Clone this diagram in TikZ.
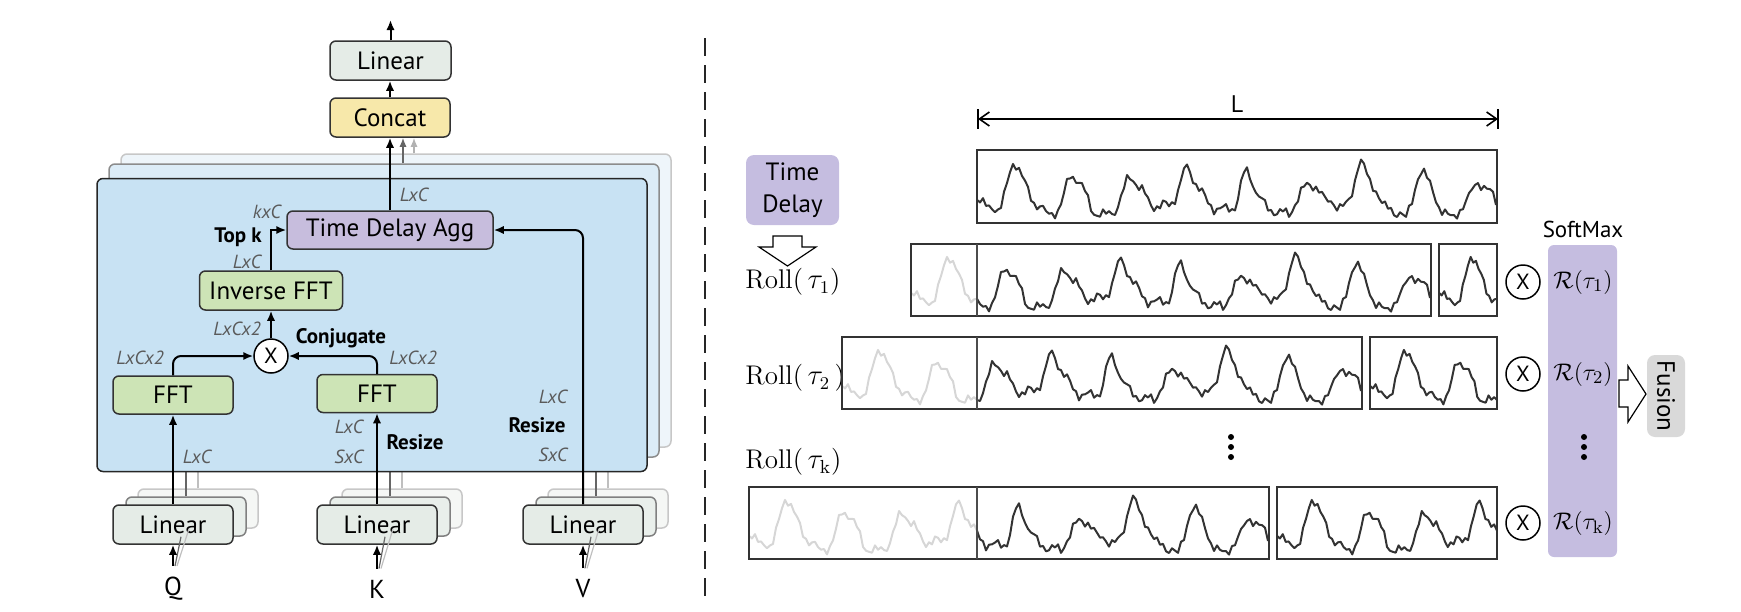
\documentclass[tikz,border=0pt]{standalone}
\usepackage{fontspec}
\setsansfont{PT Sans}
\usetikzlibrary{arrows.meta,calc}
\definecolor{panelblue}{HTML}{C8E2F3}
\definecolor{panelbluemid}{HTML}{DCECF7}
\definecolor{panelblueback}{HTML}{EEF5FA}
\definecolor{lingray}{HTML}{E5ECE7}
\definecolor{concaty}{HTML}{F7E8AA}
\definecolor{tdapurple}{HTML}{C7BDDD}
\definecolor{fftgreen}{HTML}{CDE4B6}
\definecolor{tdlav}{HTML}{C5BDE0}
\definecolor{fusiongray}{HTML}{D9D9D9}
\definecolor{dimgray}{HTML}{5A5A5A}
\definecolor{wavedarkc}{HTML}{333333}
\definecolor{wavelightc}{HTML}{D6D6D6}
\newcommand\mywaverow[2]{%
  \pgfmathsetmacro\wB{#1+72}%
  \pgfmathsetmacro\wL{977-#2}%
  \pgfmathsetmacro\wR{1497-#2}%
  \pgfmathsetmacro\wS{1497-#2+8}%
  \pgfmathsetmacro\wSc{(#2-8)/#2}%
  \pgfmathtruncatemacro\nA{#2/3+1}%
  \pgfmathtruncatemacro\nB{(519-#2)/3+1}%
  \begin{scope}
    \clip (\wL,#1) rectangle (977,\wB);
    \draw[wavelight] plot[domain=0:#2, samples=\nA, variable=\u] ({\wL+\u},{\wB-3-67*wav(\u)});
  \end{scope}
  \begin{scope}
    \clip (977,#1) rectangle (\wR,\wB);
    \draw[wavedark] plot[domain=#2:519, samples=\nB, variable=\u] ({977+\u-#2},{\wB-3-67*wav(\u)});
  \end{scope}
  \begin{scope}
    \clip (\wS,#1) rectangle (1497,\wB);
    \draw[wavedark] plot[domain=0:#2, samples=\nA, variable=\u] ({\wS+\u*\wSc},{\wB-3-67*wav(\u)});
  \end{scope}
  \draw[wbox] (\wL,#1) rectangle (\wR,\wB);
  \draw[wdiv] (977,#1) -- (977,\wB);
  \draw[wbox] (\wS,#1) rectangle (1497,\wB);
}
\begin{document}
\begin{tikzpicture}[x=0.5pt,y=-0.5pt,
  declare function={
    dd(\u)=mod(\u+51,58)-29;
    pk(\u)=exp(-(dd(\u)^2)/(60+110*(dd(\u)>0)));
    amp(\u)=0.72+0.18*sin(4.1*\u)+0.1*sin(9.7*\u+30);
    wav(\u)=0.16+0.74*amp(\u)*pk(\u)+0.12*exp(-((dd(\u)-15)^2)/30)
      +0.05*sin(mod(\u,47)*137)+0.04*sin(mod(\u,71)*191+17)+0.03*sin(mod(\u,83)*113+71)
      +0.07*sin(2.1*\u+40)-0.1*exp(-((dd(\u)+14)^2)/12)*(sin(2.7*\u)>0.3);},
  blk/.style={draw=black!80, line width=0.75pt, rounded corners=3pt, inner sep=0pt,
    font=\sffamily\fontsize{12.5}{14}\selectfont, minimum height=19.5pt},
  linbox/.style={blk, fill=lingray, minimum width=60pt},
  shadowA/.style={draw=black!50, fill=lingray!85!white, line width=0.75pt, rounded corners=3pt,
    inner sep=0pt, minimum width=60pt, minimum height=19.5pt},
  shadowB/.style={draw=black!22, fill=lingray!40!white, line width=0.75pt, rounded corners=3pt,
    inner sep=0pt, minimum width=60pt, minimum height=19.5pt},
  panel/.style={rounded corners=3pt, line width=0.75pt, inner sep=0pt,
    minimum width=275pt, minimum height=146.5pt},
  dimlab/.style={font=\sffamily\itshape\fontsize{9.5}{11}\selectfont, text=dimgray, inner sep=0pt},
  boldlab/.style={font=\sffamily\bfseries\fontsize{10.5}{12}\selectfont, inner sep=0pt},
  arr/.style={line width=1pt, -{Latex[length=5pt,width=4.2pt]}},
  garrA/.style={line width=0.8pt, black!60, -{Latex[length=4.5pt,width=3.6pt]}},
  garrB/.style={line width=0.8pt, black!30, -{Latex[length=4.5pt,width=3.6pt]}},
  glineA/.style={line width=0.8pt, black!60},
  glineB/.style={line width=0.8pt, black!25},
  wavedark/.style={line width=1pt, wavedarkc, line join=round},
  wavelight/.style={line width=1pt, wavelightc, line join=round},
  wbox/.style={line width=0.8pt, black!80},
  wdiv/.style={line width=0.6pt, black!70},
  mulc/.style={circle, draw=black, line width=0.75pt, fill=white, minimum size=17pt, inner sep=0pt,
    font=\sffamily\fontsize{11}{12}\selectfont},
  qkv/.style={font=\sffamily\fontsize{13}{14}\selectfont, inner sep=0pt},
  roll/.style={font=\rmfamily\fontsize{13.5}{15}\selectfont, inner sep=0pt, anchor=west},
  rlab/.style={font=\fontsize{13}{15}\selectfont, inner sep=0pt},
  hollow/.style={draw=black, line width=0.6pt, fill=white, line join=miter}
]
\useasboundingbox (0,0) rectangle (1741,611);

% ---------------- left: stacked panels ----------------
\node[panel, draw=black!22, fill=panelblueback] (pBack) at (396,300.5) {};
\node[panel, draw=black!45, fill=panelbluemid] (pMid) at (384,310.5) {};

% linear boxes (shadows) for Q, K, V
\foreach \nm/\cx in {Q/173, K/377, V/583}{
  \node[shadowB] (sb\nm) at (\cx+25,508.5) {};
  \node[shadowA] (sa\nm) at (\cx+13,516.5) {};
  \draw[glineB] (sb\nm.north) -- (sb\nm.north |- pBack.south);
  \draw[glineA] (sa\nm.north) -- (sa\nm.north |- pMid.south);
}

\node[panel, draw=black!85, fill=panelblue] (pMain) at (372,325) {};

\node[linbox] (linQ) at (173,524.5) {Linear};
\node[linbox] (linK) at (377,524.5) {Linear};
\node[linbox] (linV) at (583,524.5) {Linear};

\node[qkv] (Q) at (173,589) {Q};
\node[qkv] (K) at (377,589) {K};
\node[qkv] (V) at (583,589) {V};
\foreach \nm in {Q,K,V}{
  \coordinate (in\nm) at ($(\nm.north)+(0,-11)$);
  \draw[glineB, line width=0.6pt] ($(in\nm)+(4,0)$) -- ($(sb\nm.south)+(-9,0)$);
  \draw[glineA, line width=0.6pt] ($(in\nm)+(2,0)$) -- ($(sa\nm.south)+(-5,0)$);
  \draw[arr] (in\nm) -- (in\nm |- lin\nm.south);
}

% inner blocks
\node[blk, fill=fftgreen, minimum width=60pt, minimum height=19pt] (fftQ) at (173,395) {FFT};
\node[blk, fill=fftgreen, minimum width=60pt, minimum height=19pt] (fftK) at (377,393.5) {FFT};
\node[mulc] (mulx) at (271,356) {X};
\node[blk, fill=fftgreen, minimum width=71.5pt] (ifft) at (271,290.5) {Inverse FFT};
\node[blk, fill=tdapurple, minimum width=103pt, minimum height=19pt] (tda) at (390,230) {Time Delay Agg};
\node[blk, fill=concaty, minimum width=60pt] (concat) at (390,117.5) {Concat};
\node[blk, fill=lingray, minimum width=60.5pt] (linTop) at (390.5,60.5) {Linear};
\coordinate (outTop) at (390.5,20);

% arrows
\draw[arr] (linQ.north) -- (linQ.north |- fftQ.south);
\draw[arr] (linK.north) -- (linK.north |- fftK.south);
\draw[arr, rounded corners=4pt] (linV.north) |- (tda.east);
\draw[arr, rounded corners=4pt] (fftQ.north) |- (mulx.west);
\draw[arr, rounded corners=4pt] (fftK.north) |- (mulx.east);
\draw[arr] (mulx.north) -- (mulx.north |- ifft.south);
\draw[arr] (ifft.north) |- (tda.west);
\draw[arr] (tda.north) -- (concat.south);
\draw[arr] (concat.north) -- (concat.north |- linTop.south);
\draw[arr] (linTop.north) -- (outTop);
\draw[garrA] ($(pMid.north -| concat.south)+(13,0)$) -- ($(concat.south)+(13,0)$);
\draw[garrB] ($(pBack.north -| concat.south)+(24,0)$) -- ($(concat.south)+(24,0)$);

% labels
\node[dimlab] (l1) at (414,195) {LxC};
\node[dimlab] (l2) at (267,212) {kxC};
\node[boldlab] (l3) at (238,237) {Top k};
\node[dimlab] (l4) at (247,262) {LxC};
\node[dimlab] (l5) at (237,329) {LxCx2};
\node[boldlab] (l6) at (341,338) {Conjugate};
\node[dimlab] (l7) at (140,358) {LxCx2};
\node[dimlab] (l8) at (413,358) {LxCx2};
\node[dimlab] (l9) at (349,427) {LxC};
\node[boldlab] (l10) at (415,442) {Resize};
\node[dimlab] (l11) at (349,457) {SxC};
\node[dimlab] (l12) at (197,457) {LxC};
\node[dimlab] (l13) at (553,397) {LxC};
\node[boldlab] (l14) at (537,425) {Resize};
\node[dimlab] (l15) at (553,455) {SxC};

% ---------------- separator ----------------
\coordinate (sepTop) at (705,38);
\coordinate (sepBot) at (705,598);
\draw[line width=0.8pt, black!85, dash pattern=on 9pt off 4.5pt] (sepTop) -- (sepBot);

% ---------------- right side ----------------
\node[fill=tdlav, rounded corners=4pt, minimum width=46.5pt, minimum height=35pt, inner sep=0pt,
  align=center, font=\sffamily\fontsize{12.5}{16}\selectfont] (td) at (792.5,190) {Time\\Delay};
\draw[hollow] (773,236) -- (802,236) -- (802,247) -- (816,247) -- (787.5,266) -- (759,247) -- (773,247) -- cycle;

\node[roll] (r1) at (745,282) {Roll(\,$\tau_1$)};
\node[roll] (r2) at (745,378) {Roll(\,$\tau_2$\,)};
\node[roll] (rk) at (745,462) {Roll(\,$\tau_{\mathrm{k}}$)};

% L dimension
\coordinate (dimL) at (978,119);
\coordinate (dimR) at (1498,119);
\draw[line width=0.8pt, {Straight Barb[length=5pt,width=7pt]}-{Straight Barb[length=5pt,width=7pt]}] (dimL) -- (dimR);
\draw[line width=0.8pt] ($(dimL)+(0,-10)$) -- ($(dimL)+(0,10)$);
\draw[line width=0.8pt] ($(dimR)+(0,-10)$) -- ($(dimR)+(0,10)$);
\node[font=\sffamily\fontsize{12}{14}\selectfont, inner sep=0pt] (Llab) at (1237,104) {L};

% top original series
\begin{scope}
  \clip (977,150) rectangle (1497,223);
  \draw[wavedark] plot[domain=0:519, samples=174, variable=\u] ({977+\u},{223-3-67*wav(\u)});
\end{scope}
\draw[wbox] (977,150) rectangle (1497,223);

\mywaverow{244}{66}
\mywaverow{337}{135}
\mywaverow{487}{228}

% dots
\foreach \yy in {437,447,457}{
  \fill (1231,\yy) circle (1.5pt);
}

% softmax column
\node[font=\sffamily\fontsize{11.5}{13}\selectfont, inner sep=0pt] (smx) at (1583,229) {SoftMax};
\node[fill=tdlav, rounded corners=3pt, minimum width=34.5pt, minimum height=156pt, inner sep=0pt] (smcol) at (1582.5,401) {};
\foreach \yy in {437,447,457}{ \fill (1584,\yy) circle (1.5pt); }

\node[mulc] (m1) at (1523,282) {X};
\node[mulc] (m2) at (1523,374) {X};
\node[mulc] (m3) at (1523,523) {X};
\node[rlab] (R1) at (1583,282) {$\mathcal{R}(\tau_1)$};
\node[rlab] (R2) at (1583,374) {$\mathcal{R}(\tau_2)$};
\node[rlab] (R3) at (1583,523) {$\mathcal{R}(\tau_{\mathrm{k}})$};

% fusion
\draw[hollow] (1619,380) -- (1628,380) -- (1628,366) -- (1646,394) -- (1628,422) -- (1628,407) -- (1619,407) -- cycle;
\node[fill=fusiongray, rounded corners=4pt, rotate=-90, minimum width=41pt, minimum height=19pt, inner sep=0pt,
  font=\sffamily\fontsize{12.5}{14}\selectfont] (fus) at (1666,396) {Fusion};
\end{tikzpicture}
\end{document}
